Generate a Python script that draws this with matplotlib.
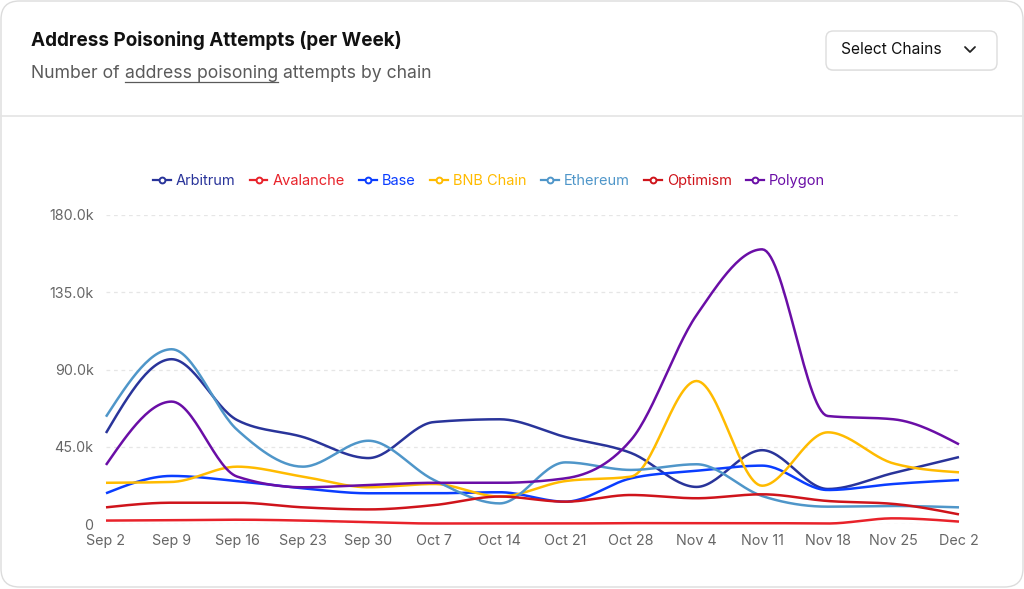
#!/usr/bin/env python3
import matplotlib
matplotlib.use("Agg")
import matplotlib.pyplot as plt
from matplotlib.patches import FancyBboxPatch
from matplotlib.lines import Line2D
import numpy as np


W, H = 1024, 589

weeks = ["Sep 2", "Sep 9", "Sep 16", "Sep 23", "Sep 30", "Oct 7", "Oct 14",
         "Oct 21", "Oct 28", "Nov 4", "Nov 11", "Nov 18", "Nov 25", "Dec 2"]

# weekly attempts, in thousands
arbitrum = [53, 96, 60.5, 50.7, 38.4, 59.4, 61, 50.7, 41.4, 21.6, 43, 20.4, 29.7, 39]
avalanche = [2, 2.2, 2.5, 2, 1, 0.3, 0.3, 0.3, 0.5, 0.5, 0.5, 0.3, 3.3, 1.4]
base = [17.9, 28, 25, 20.8, 17.9, 17.9, 18.5, 13, 26.6, 31, 34, 19.8, 23.3, 25.6]
bnb = [24, 24.5, 33.4, 27.6, 21.4, 23.3, 16, 25, 27.6, 83.3, 22.3, 53.4, 35.3, 30.1]
ethereum = [62.5, 101.8, 54.8, 33.4, 48.5, 25.6, 12, 35.9, 31.5, 34.8, 16.3, 10.1, 10.5, 9.7]
optimism = [9.7, 12.4, 12.4, 9.7, 8.5, 11, 16, 13, 16.9, 15, 17.3, 13.4, 11.7, 5.6]
polygon = [34.4, 71.3, 27.6, 21.4, 22.7, 24, 24, 26.6, 48.9, 121.7, 160, 62.9, 61, 46.4]

chains = ["Arbitrum", "Avalanche", "Base", "BNB Chain", "Ethereum", "Optimism", "Polygon"]
colors = ["#29349a", "#e8222a", "#0a3dff", "#ffbb00", "#4f96c9", "#cf141b", "#6a0ea6"]

yticks = [0, 45, 90, 135, 180]
ytick_labels = ["0", "45.0k", "90.0k", "135.0k", "180.0k"]


def px(x, y):
    return x / W, 1 - y / H


def monotone(xs, ys, n=30):
    # same curve as d3 curveMonotoneX
    xs = np.asarray(xs, float)
    ys = np.asarray(ys, float)
    h = np.diff(xs)
    s = np.diff(ys) / h
    t = np.zeros(len(xs))
    for i in range(1, len(xs) - 1):
        p = (s[i - 1] * h[i] + s[i] * h[i - 1]) / (h[i - 1] + h[i])
        t[i] = (np.sign(s[i - 1]) + np.sign(s[i])) * min(abs(s[i - 1]), abs(s[i]), 0.5 * abs(p))
    t[0] = (3 * s[0] - t[1]) / 2
    t[-1] = (3 * s[-1] - t[-2]) / 2
    out_x, out_y = [], []
    for i in range(len(xs) - 1):
        u = np.linspace(0, 1, n, endpoint=(i == len(xs) - 2))
        dx = h[i]
        p0, p3 = ys[i], ys[i + 1]
        p1 = p0 + dx * t[i] / 3
        p2 = p3 - dx * t[i + 1] / 3
        out_x.append(xs[i] + dx * u)
        out_y.append((1 - u) ** 3 * p0 + 3 * (1 - u) ** 2 * u * p1 + 3 * (1 - u) * u ** 2 * p2 + u ** 3 * p3)
    return np.concatenate(out_x), np.concatenate(out_y)


def main():
    plt.rcParams['font.family'] = ['Inter', 'DejaVu Sans']
    fig = plt.figure(figsize=(W / 100, H / 100), dpi=100)
    fig.patch.set_facecolor("white")

    # card
    card = FancyBboxPatch(px(1, 587), 1022 / W, 586 / H,
                          boxstyle="round,pad=0,rounding_size=0.018",
                          transform=fig.transFigure, facecolor="white",
                          edgecolor="#dcdcdc", linewidth=1, mutation_aspect=W / H,
                          zorder=-10)
    fig.patches.append(card)
    fig.add_artist(Line2D([0, 1], [px(0, 116)[1]] * 2, color="#e4e4e4", lw=1.2, zorder=-5))

    # header
    fig.text(*px(31, 41), "Address Poisoning Attempts (per Week)", fontsize=13.6,
             fontweight="bold", color="#111111", va="center")
    r = fig.canvas.get_renderer()
    x0, yy = px(31, 73)
    parts = [("Number of ", False), ("address poisoning", True), (" attempts by chain", False)]
    for txt, under in parts:
        t = fig.text(x0, yy, txt, fontsize=12.7, color="#5a5a5a", va="center")
        bb = t.get_window_extent(renderer=r)
        if under:
            fig.add_artist(Line2D([bb.x0 / W, bb.x1 / W], [px(0, 82.5)[1]] * 2,
                                  color="#5a5a5a", lw=0.9))
        x0 = bb.x1 / W

    # select button
    shadow = FancyBboxPatch(px(826, 71), 171 / W, 39 / H,
                            boxstyle="round,pad=0,rounding_size=0.007",
                            transform=fig.transFigure, facecolor="#f0f0f0",
                            edgecolor="none", mutation_aspect=W / H, zorder=-4)
    fig.patches.append(shadow)
    btn = FancyBboxPatch(px(826, 70), 171 / W, 39 / H,
                         boxstyle="round,pad=0,rounding_size=0.007",
                         transform=fig.transFigure, facecolor="white",
                         edgecolor="#dddddd", linewidth=1, mutation_aspect=W / H,
                         zorder=-3)
    fig.patches.append(btn)
    fig.text(*px(841, 50), "Select Chains", fontsize=11.2, color="#111111", va="center")
    cx = [px(965, 47)[0], px(970, 52)[0], px(975, 47)[0]]
    cy = [px(965, 47)[1], px(970, 52)[1], px(975, 47)[1]]
    fig.add_artist(Line2D(cx, cy, color="#222222", lw=1.3, solid_capstyle="round"))

    # chart
    left, bottom = px(106, 524)
    right, top = px(959, 215)
    ax = fig.add_axes([left, bottom, right - left, top - bottom])
    ax.set_facecolor("none")
    xs = np.arange(len(weeks))
    series = [arbitrum, avalanche, base, bnb, ethereum, optimism, polygon]
    for yv in yticks:
        ax.axhline(yv, color="#e6e6e6", lw=0.9, ls=(0, (3, 3)), zorder=0)
    for name, vals, c in zip(chains, series, colors):
        sx, sy = monotone(xs, vals)
        ax.plot(sx, sy, color=c, lw=1.8, clip_on=False, label=name,
                solid_capstyle="butt", solid_joinstyle="round")

    ax.set_xlim(0, len(weeks) - 1)
    ax.set_ylim(0, 180)
    ax.set_xticks(xs)
    ax.set_xticklabels(weeks)
    ax.set_yticks(yticks)
    ax.set_yticklabels(ytick_labels)
    ax.tick_params(length=0, labelsize=10.3, labelcolor="#666666")
    ax.tick_params(axis="x", pad=7)
    ax.tick_params(axis="y", pad=9)
    for s in ax.spines.values():
        s.set_visible(False)

    handles = [Line2D([0], [0], color=c, lw=1.6, marker="o", markersize=4.2,
                      markerfacecolor="white", markeredgewidth=1.4) for c in colors]
    fig.legend(handles, chains, loc="center", bbox_to_anchor=px(489, 181),
               ncol=7, frameon=False, fontsize=10.5, handlelength=1.2,
               handletextpad=0.35, columnspacing=1.0, labelcolor=colors)

    fig.savefig("out.png", dpi=100, facecolor="white")


if __name__ == '__main__':
    main()
